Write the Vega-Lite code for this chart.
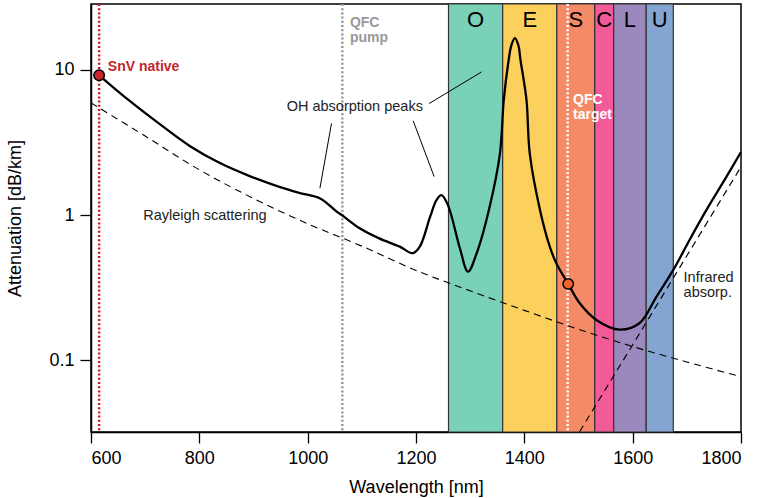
{
  "$schema": "https://vega.github.io/schema/vega-lite/v6.json",
  "width": 650,
  "height": 428,
  "autosize": "none",
  "padding": {"left": 91, "top": 4, "right": 21, "bottom": 66},
  "background": "white",
  "config": {
    "view": {"stroke": "black", "strokeWidth": 1.5},
    "font": "Liberation Sans",
    "axis": {
      "grid": false,
      "domainColor": "black",
      "domainWidth": 1.5,
      "tickColor": "black",
      "tickWidth": 1.3,
      "tickSize": 11,
      "labelFont": "Liberation Sans",
      "labelFontSize": 18,
      "labelColor": "black",
      "labelPadding": 6,
      "titleFont": "Liberation Sans",
      "titleFontSize": 18,
      "titleFontWeight": "normal",
      "titleColor": "black",
      "zindex": 1
    }
  },
  "datasets": {
    "bands": [
      {"band": "O", "start": 1260, "end": 1360, "center": 1310},
      {"band": "E", "start": 1360, "end": 1460, "center": 1410},
      {"band": "S", "start": 1460, "end": 1530, "center": 1495},
      {"band": "C", "start": 1530, "end": 1565, "center": 1547.5},
      {"band": "L", "start": 1565, "end": 1625, "center": 1595},
      {"band": "U", "start": 1625, "end": 1675, "center": 1650}
    ],
    "vlines": [
      {"line": "SnV native", "wl": 615},
      {"line": "QFC pump", "wl": 1064},
      {"line": "QFC target", "wl": 1480}
    ],
    "attenuation": [
      {"wl": 615, "att": 9.19},
      {"wl": 672, "att": 6.09},
      {"wl": 727, "att": 4.23},
      {"wl": 783, "att": 2.98},
      {"wl": 838, "att": 2.28},
      {"wl": 893, "att": 1.855},
      {"wl": 949, "att": 1.558},
      {"wl": 986, "att": 1.417},
      {"wl": 1023, "att": 1.30},
      {"wl": 1053, "att": 1.06},
      {"wl": 1063, "att": 1.00},
      {"wl": 1096, "att": 0.81},
      {"wl": 1132, "att": 0.69},
      {"wl": 1170, "att": 0.605},
      {"wl": 1194, "att": 0.545},
      {"wl": 1207, "att": 0.605},
      {"wl": 1226, "att": 0.97},
      {"wl": 1238, "att": 1.27},
      {"wl": 1247, "att": 1.37},
      {"wl": 1259, "att": 1.17},
      {"wl": 1281, "att": 0.59},
      {"wl": 1296, "att": 0.407},
      {"wl": 1312, "att": 0.545},
      {"wl": 1336, "att": 1.14},
      {"wl": 1355, "att": 2.66},
      {"wl": 1362, "att": 6.19},
      {"wl": 1371, "att": 11.66},
      {"wl": 1376, "att": 14.8},
      {"wl": 1382.5, "att": 16.6},
      {"wl": 1389, "att": 14.8},
      {"wl": 1393, "att": 11.66},
      {"wl": 1404, "att": 6.19},
      {"wl": 1410, "att": 2.66},
      {"wl": 1429, "att": 1.08},
      {"wl": 1447, "att": 0.605},
      {"wl": 1459, "att": 0.465},
      {"wl": 1481, "att": 0.335},
      {"wl": 1502, "att": 0.247},
      {"wl": 1533, "att": 0.189},
      {"wl": 1576, "att": 0.162},
      {"wl": 1613, "att": 0.180},
      {"wl": 1644, "att": 0.274},
      {"wl": 1675, "att": 0.418},
      {"wl": 1705, "att": 0.673},
      {"wl": 1736, "att": 1.08},
      {"wl": 1773, "att": 1.83},
      {"wl": 1800, "att": 2.72}
    ],
    "rayleigh": [
      {"wl": 600, "att": 5.93},
      {"wl": 700, "att": 3.5},
      {"wl": 800, "att": 2.05},
      {"wl": 900, "att": 1.30},
      {"wl": 1000, "att": 0.87},
      {"wl": 1100, "att": 0.61},
      {"wl": 1200, "att": 0.415},
      {"wl": 1300, "att": 0.30},
      {"wl": 1400, "att": 0.22},
      {"wl": 1500, "att": 0.163},
      {"wl": 1600, "att": 0.124},
      {"wl": 1700, "att": 0.097},
      {"wl": 1800, "att": 0.0767}
    ],
    "infrared": [
      {"wl": 1502, "att": 0.032},
      {"wl": 1600, "att": 0.1274},
      {"wl": 1800, "att": 2.15}
    ],
    "leaders": [
      {"wl": 1044, "att": 4.28, "wl2": 1022.6, "att2": 1.53},
      {"wl": 1194.8, "att": 4.46, "wl2": 1233.5, "att2": 1.84},
      {"wl": 1224.3, "att": 5.87, "wl2": 1321, "att2": 9.69}
    ],
    "markers": [
      {"name": "SnV native", "wl": 615, "att": 9.19},
      {"name": "QFC target", "wl": 1481, "att": 0.335}
    ]
  },
  "layer": [
    {
      "data": {"name": "bands"},
      "mark": {"type": "rect", "stroke": "#333333", "strokeWidth": 1.2},
      "encoding": {
        "x": {"field": "start", "type": "quantitative", "title": "Wavelength [nm]",
              "scale": {"domain": [600, 1800], "nice": false, "zero": false},
              "axis": {"values": [600, 800, 1000, 1200, 1400, 1600, 1800], "format": "d", "titlePadding": 11}},
        "x2": {"field": "end"},
        "fill": {"field": "band", "type": "nominal", "legend": null,
                 "scale": {"domain": ["O", "E", "S", "C", "L", "U"],
                           "range": ["#79d1b8", "#fcd05c", "#f58b66", "#f25a98", "#9b89be", "#84a5d1"]}}
      }
    },
    {
      "data": {"name": "bands"},
      "mark": {"type": "text", "fontSize": 22, "align": "center", "baseline": "middle", "color": "black"},
      "encoding": {
        "x": {"field": "center", "type": "quantitative", "title": "Wavelength [nm]"},
        "y": {"datum": 22.2, "type": "quantitative", "title": "Attenuation [dB/km]"},
        "text": {"field": "band"}
      }
    },
    {
      "data": {"name": "vlines"},
      "mark": {"type": "rule", "strokeWidth": 2.5, "strokeDash": [2, 2.2]},
      "encoding": {
        "x": {"field": "wl", "type": "quantitative", "title": "Wavelength [nm]"},
        "stroke": {"field": "line", "type": "nominal", "legend": null,
                   "scale": {"domain": ["SnV native", "QFC pump", "QFC target"],
                             "range": ["#c8202a", "#999999", "#ffffff"]}}
      }
    },
    {
      "data": {"name": "rayleigh"},
      "mark": {"type": "line", "color": "black", "strokeWidth": 1.1, "strokeDash": [7, 5], "interpolate": "catmull-rom"},
      "encoding": {
        "x": {"field": "wl", "type": "quantitative", "title": "Wavelength [nm]"},
        "y": {"field": "att", "type": "quantitative", "title": "Attenuation [dB/km]"}
      }
    },
    {
      "data": {"name": "infrared"},
      "mark": {"type": "line", "color": "black", "strokeWidth": 1.1, "strokeDash": [7, 5], "clip": true},
      "encoding": {
        "x": {"field": "wl", "type": "quantitative", "title": "Wavelength [nm]"},
        "y": {"field": "att", "type": "quantitative", "title": "Attenuation [dB/km]"}
      }
    },
    {
      "data": {"name": "attenuation"},
      "mark": {"type": "line", "color": "black", "strokeWidth": 2.3, "interpolate": "catmull-rom"},
      "encoding": {
        "x": {"field": "wl", "type": "quantitative", "title": "Wavelength [nm]"},
        "y": {"field": "att", "type": "quantitative", "title": "Attenuation [dB/km]",
              "scale": {"type": "log", "domain": [0.0319, 28.5], "nice": false},
              "axis": {"values": [0.1, 1, 10], "format": "~g", "titlePadding": 24}}
      }
    },
    {
      "data": {"name": "leaders"},
      "mark": {"type": "rule", "color": "black", "strokeWidth": 1},
      "encoding": {
        "x": {"field": "wl", "type": "quantitative", "title": "Wavelength [nm]"},
        "y": {"field": "att", "type": "quantitative", "title": "Attenuation [dB/km]"},
        "x2": {"field": "wl2"},
        "y2": {"field": "att2"}
      }
    },
    {
      "data": {"values": [{"label": "SnV native", "wl": 631, "att": 10.4}]},
      "mark": {"type": "text", "fontSize": 14, "fontWeight": "bold", "color": "#c0262d", "align": "left", "baseline": "middle"},
      "encoding": {
        "x": {"field": "wl", "type": "quantitative", "title": "Wavelength [nm]"},
        "y": {"field": "att", "type": "quantitative", "title": "Attenuation [dB/km]"},
        "text": {"field": "label"}
      }
    },
    {
      "data": {"values": [{"label": "QFC\npump", "wl": 1078, "att": 19.7}]},
      "mark": {"type": "text", "fontSize": 14, "fontWeight": "bold", "color": "#999999", "align": "left", "baseline": "alphabetic", "lineBreak": "\n", "lineHeight": 15},
      "encoding": {
        "x": {"field": "wl", "type": "quantitative", "title": "Wavelength [nm]"},
        "y": {"field": "att", "type": "quantitative", "title": "Attenuation [dB/km]"},
        "text": {"field": "label"}
      }
    },
    {
      "data": {"values": [{"label": "QFC\ntarget", "wl": 1490, "att": 5.81}]},
      "mark": {"type": "text", "fontSize": 14, "fontWeight": "bold", "color": "#ffffff", "align": "left", "baseline": "alphabetic", "lineBreak": "\n", "lineHeight": 15},
      "encoding": {
        "x": {"field": "wl", "type": "quantitative", "title": "Wavelength [nm]"},
        "y": {"field": "att", "type": "quantitative", "title": "Attenuation [dB/km]"},
        "text": {"field": "label"}
      }
    },
    {
      "data": {"values": [
        {"label": "OH absorption peaks", "wl": 1087, "att": 5.56, "anchor": "center"},
        {"label": "Rayleigh scattering", "wl": 696.5, "att": 0.984, "anchor": "left"}
      ]},
      "mark": {"type": "text", "fontSize": 14.5, "color": "#222222", "baseline": "middle", "align": {"expr": "datum.anchor"}},
      "encoding": {
        "x": {"field": "wl", "type": "quantitative", "title": "Wavelength [nm]"},
        "y": {"field": "att", "type": "quantitative", "title": "Attenuation [dB/km]"},
        "text": {"field": "label"}
      }
    },
    {
      "data": {"values": [{"label": "Infrared\nabsorp.", "wl": 1694, "att": 0.344}]},
      "mark": {"type": "text", "fontSize": 14.5, "color": "#222222", "align": "left", "baseline": "alphabetic", "lineBreak": "\n", "lineHeight": 15},
      "encoding": {
        "x": {"field": "wl", "type": "quantitative", "title": "Wavelength [nm]"},
        "y": {"field": "att", "type": "quantitative", "title": "Attenuation [dB/km]"},
        "text": {"field": "label"}
      }
    },
    {
      "data": {"name": "markers"},
      "mark": {"type": "point", "filled": true, "size": 110, "stroke": "black", "strokeWidth": 1.5, "opacity": 1},
      "encoding": {
        "x": {"field": "wl", "type": "quantitative", "title": "Wavelength [nm]"},
        "y": {"field": "att", "type": "quantitative", "title": "Attenuation [dB/km]"},
        "fill": {"field": "name", "type": "nominal", "legend": null,
                 "scale": {"domain": ["SnV native", "QFC target"], "range": ["#c8262c", "#f2622e"]}}
      }
    }
  ],
  "resolve": {"scale": {"fill": "independent", "stroke": "independent"}}
}
